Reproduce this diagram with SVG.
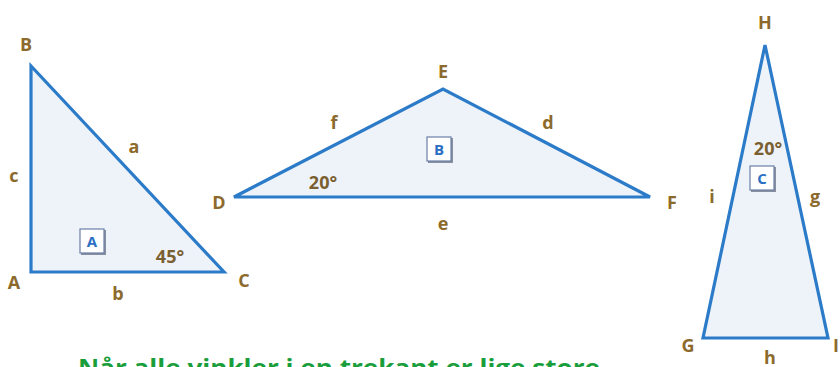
<svg xmlns="http://www.w3.org/2000/svg" width="840" height="367" viewBox="0 0 840 367">
<style>
.tri{fill:#eef3fa;stroke:#2c7bc9;stroke-width:3.2;stroke-linejoin:miter}
.lbl{font-family:"Open Sans","Liberation Sans",sans-serif;font-weight:bold;font-size:18px;fill:#8c6a2c;text-anchor:middle}
.ang{font-family:"Open Sans","Liberation Sans",sans-serif;font-weight:bold;font-size:18px;fill:#7a6030;text-anchor:middle}
.box{fill:#ffffff;stroke:#6a7fa6;stroke-width:1.2}
.boxs{fill:none;stroke:#8890a0;stroke-width:2}
.btx{font-family:"Open Sans","Liberation Sans",sans-serif;font-weight:bold;font-size:15px;fill:#2a6fc4;text-anchor:middle}
.cap{font-family:"Open Sans","Liberation Sans",sans-serif;font-weight:bold;font-size:23px;fill:#1a9e3c}
</style>
<rect width="840" height="367" fill="#ffffff"/>
<g id="triangleA">
<polygon class="tri" points="31,66 31,272 224,272"/>
<text class="lbl" x="26" y="51">B</text>
<text class="lbl" x="14" y="182">c</text>
<text class="lbl" x="134" y="153">a</text>
<text class="lbl" x="14" y="289">A</text>
<text class="lbl" x="244" y="287">C</text>
<text class="lbl" x="118" y="300">b</text>
<text class="ang" x="170" y="263">45°</text>
<polyline class="boxs" points="81,254 105,254 105,230"/>
<rect class="box" x="80" y="229" width="24" height="24"/>
<text class="btx" x="92" y="247">A</text>
</g>
<g id="triangleB">
<polygon class="tri" points="234,197 443,89 650,197"/>
<text class="lbl" x="219" y="209">D</text>
<text class="lbl" x="443" y="78">E</text>
<text class="lbl" x="672" y="209">F</text>
<text class="lbl" x="334" y="129">f</text>
<text class="lbl" x="548" y="129">d</text>
<text class="lbl" x="443" y="230">e</text>
<text class="ang" x="323" y="189">20°</text>
<polyline class="boxs" points="428,162 452,162 452,138"/>
<rect class="box" x="427" y="137" width="24" height="24"/>
<text class="btx" x="439" y="155">B</text>
</g>
<g id="triangleC">
<polygon class="tri" points="765,45 703,338 828,338"/>
<text class="lbl" x="765" y="29">H</text>
<text class="lbl" x="688" y="352">G</text>
<text class="lbl" x="712" y="203">i</text>
<text class="lbl" x="815" y="203">g</text>
<text class="lbl" x="770" y="364">h</text>
<text class="lbl" x="836" y="352">I</text>
<text class="ang" x="768" y="155">20°</text>
<polyline class="boxs" points="751,191 775,191 775,167"/>
<rect class="box" x="750" y="166" width="24" height="24"/>
<text class="btx" x="762" y="184">C</text>
</g>
<text class="cap" x="78" y="376" textLength="522" lengthAdjust="spacingAndGlyphs">Når alle vinkler i en trekant er lige store</text>
</svg>
